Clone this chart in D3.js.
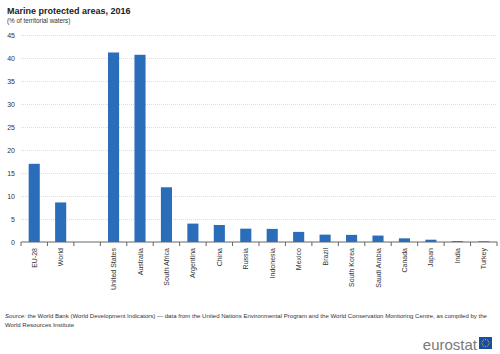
<!DOCTYPE html>
<html>
<head>
<meta charset="utf-8">
<script src="https://cdn.jsdelivr.net/npm/d3@7"></script>
<style>
  body { margin: 0; background: #fff; }
  svg { font-family: "Liberation Sans", Arial, sans-serif; }
  .grid line { stroke: #dcdcdc; stroke-dasharray: 1,1; }
</style>
</head>
<body>
<div id="chart"></div>
<script>
// data
var countries = ["EU-28", "World", "", "United States", "Australia", "South Africa",
    "Argentina", "China", "Russia", "Indonesia", "Mexico", "Brazil", "South Korea",
    "Saudi Arabia", "Canada", "Japan", "India", "Turkey"];
var shares = [17.0, 8.6, null, 41.2, 40.7, 11.9, 4.0, 3.7, 2.9, 2.85, 2.2, 1.6, 1.55,
    1.4, 0.8, 0.5, 0.2, 0.15];
var yTicks = [0, 5, 10, 15, 20, 25, 30, 35, 40, 45];

var width = 500, height = 354;
var margin = { top: 35, right: 3, bottom: 112, left: 21 };

var svg = d3.select("#chart").append("svg")
    .attr("width", width)
    .attr("height", height);

var x = d3.scaleBand()
    .domain(countries.map((d, i) => i))
    .range([margin.left, width - margin.right])
    .paddingInner(0.58)
    .paddingOuter(0.29);

var y = d3.scaleLinear()
    .domain([0, 45])
    .range([height - margin.bottom, margin.top]);

// gridlines
svg.append("g")
    .attr("class", "grid")
    .attr("transform", `translate(${margin.left},0)`)
    .call(d3.axisLeft(y).tickValues(yTicks).tickSize(-(width - margin.left - margin.right)).tickFormat(""))
    .call(g => g.select(".domain").remove())
    .call(g => g.selectAll(".tick").filter(d => d === 0).remove());

// y labels
svg.append("g")
    .selectAll("text")
    .data(yTicks)
    .enter()
    .append("text")
    .attr("x", 15)
    .attr("y", d => y(d) + 2.5)
    .attr("text-anchor", "end")
    .attr("font-size", "7px")
    .attr("fill", "#333")
    .text(d => d);

// bars
svg.append("g")
    .selectAll("rect")
    .data(shares.map((v, i) => ({ i: i, v: v })).filter(d => d.v != null))
    .enter()
    .append("rect")
    .attr("fill", "#2a6ebb")
    .attr("x", d => x(d.i))
    .attr("y", d => y(d.v))
    .attr("width", x.bandwidth())
    .attr("height", d => y(0) - y(d.v));

// x axis
var step = x.step();
var x0 = margin.left;
var gx = svg.append("g")
    .attr("transform", `translate(0,${y(0)})`);

gx.append("line")
    .attr("x1", x0).attr("x2", width - margin.right)
    .attr("stroke", "#666").attr("stroke-width", 1);

gx.selectAll(".tk")
    .data(d3.range(countries.length + 1))
    .enter()
    .append("line")
    .attr("x1", i => x0 + i * step)
    .attr("x2", i => x0 + i * step)
    .attr("y1", 0).attr("y2", 4)
    .attr("stroke", "#666");

gx.selectAll(".lbl")
    .data(countries)
    .enter()
    .append("text")
    .attr("transform", (d, i) => `translate(${x(i) + x.bandwidth() / 2 + 2.5},6) rotate(-90)`)
    .attr("text-anchor", "end")
    .attr("font-size", "7px")
    .attr("fill", "#333")
    .text(d => d);

// titles
svg.append("text")
    .attr("x", 7).attr("y", 14)
    .attr("font-size", "9px")
    .attr("font-weight", "bold")
    .attr("fill", "#222")
    .text("Marine protected areas, 2016");

svg.append("text")
    .attr("x", 7).attr("y", 23)
    .attr("font-size", "6.3px")
    .attr("fill", "#333")
    .text("(% of territorial waters)");

// source
var src = svg.append("text")
    .attr("x", 5).attr("y", 318)
    .attr("font-size", "6.05px")
    .attr("fill", "#333");
src.append("tspan").attr("font-style", "italic").text("Source:");
src.append("tspan").text(" the World Bank (World Development Indicators) \u2014 data from the United Nations Environmental Program and the World Conservation Monitoring Centre, as compiled by the");
svg.append("text")
    .attr("x", 5).attr("y", 327)
    .attr("font-size", "6.05px")
    .attr("fill", "#333")
    .text("World Resources Institute");

// logo
svg.append("text")
    .attr("x", 477).attr("y", 350)
    .attr("text-anchor", "end")
    .attr("font-size", "15px")
    .attr("fill", "#7a7a7a")
    .text("eurostat");

var flag = svg.append("g").attr("transform", "translate(479,337)");
flag.append("rect").attr("width", 13).attr("height", 12).attr("fill", "#1a4ea0");
flag.selectAll("circle")
    .data(d3.range(12))
    .enter()
    .append("circle")
    .attr("cx", i => 6.5 + 3.6 * Math.cos(i * Math.PI / 6))
    .attr("cy", i => 6 + 3.6 * Math.sin(i * Math.PI / 6))
    .attr("r", 0.5)
    .attr("fill", "#f2d000");
</script>
</body>
</html>
